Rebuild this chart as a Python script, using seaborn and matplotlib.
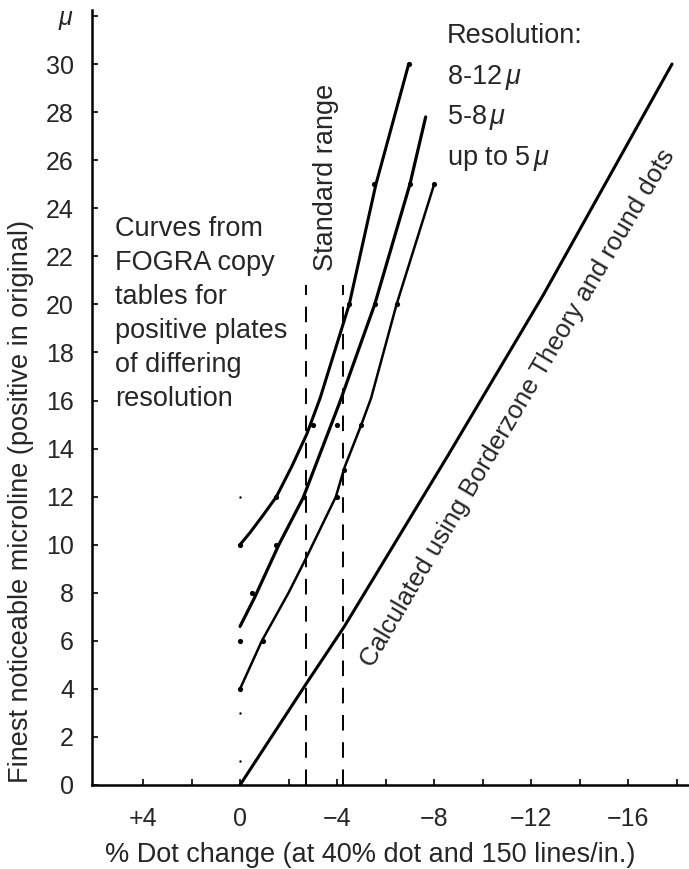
# Finest noticeable microline vs. % dot change - FOGRA curves and borderzone theory

import numpy as np
import pandas as pd
import matplotlib
matplotlib.use("Agg")
import matplotlib.pyplot as plt
import seaborn as sns

# Curves (x = % dot change, y = microline in micron)
res_8_12_x = [0, -0.41, -0.96, -1.5, -2.13, -2.75, -3.3, -4.5, -5.6, -6.95]
res_8_12_y = [10, 10.5, 11.24, 12, 13.25, 14.6, 16.1, 20, 25, 30]

res_5_8_x = [0, -0.6, -1.6, -2.6, -4.1, -5.55, -7.0, -7.65]
res_5_8_y = [6.6, 7.8, 10, 11.95, 15.9, 20, 25, 27.8]

res_up5_x = [0, -0.9, -2.0, -2.75, -3.95, -4.3, -5.0, -5.4, -6.45, -8.0]
res_up5_y = [4, 6, 8, 9.5, 12, 13.2, 15, 16.1, 20, 25]

# Calculated with borderzone theory and round dots
calc_x = [0, -2.75, -4.3, -8.56, -12.5, -17.8]
calc_y = [0, 4.25, 6.6, 13.7, 20.4, 30]

# Measured points
dots_x = [0, 0, 0, -0.95, -0.5, -1.5, -1.5, -2.65, -4.0, -3.0, -4.0, -5.0,
          -4.3, -4.5, -5.55, -6.45, -5.5, -7.0, -8.0, -6.95]
dots_y = [10, 6, 4, 6, 8, 10, 12, 12, 12, 15, 15, 15,
          13.1, 20, 20, 20, 25, 25, 25, 30]
specks_x = [0, 0, 0]
specks_y = [12, 3, 1]

# Standard range (dashed verticals)
std_range_x = [-2.72, -4.24]
std_range_top = 20.8

# Axis ticks
xtick_pos = [4, 2, 0, -2, -4, -6, -8, -10, -12, -14, -16, -18]
xtick_labels = ["+4", "", "0", "", "\u22124", "", "\u22128", "", "\u221212", "", "\u221216", ""]
ytick_pos = list(range(0, 34, 2))
ytick_labels = [str(v) for v in range(0, 32, 2)] + [r"$\mu$"]

left_text = ["Curves from", "FOGRA copy", "tables for", "positive plates",
             "of differing", "resolution"]
legend_text = ["Resolution:", r"8-12$\,\mu$", r"5-8$\,\mu$", r"up to 5$\,\mu$"]

sns.set_theme(style="ticks")
plt.rcParams["font.family"] = ["Liberation Sans", "DejaVu Sans"]
plt.rcParams["mathtext.fontset"] = "custom"
plt.rcParams["mathtext.rm"] = "Liberation Sans"
plt.rcParams["mathtext.it"] = "Liberation Sans:italic"

fig = plt.figure(figsize=(6.89, 8.69), dpi=100)
ax = fig.add_axes([92 / 689, 84 / 869, 597 / 689, 775 / 869])

curves = [(res_8_12_x, res_8_12_y, 2.2), (res_5_8_x, res_5_8_y, 2.3),
          (res_up5_x, res_up5_y, 1.8), (calc_x, calc_y, 2.2)]
for cx, cy, lw in curves:
    d = pd.DataFrame({"x": cx, "y": cy})
    sns.lineplot(data=d, x="x", y="y", sort=False, estimator=None,
                 color="black", lw=lw, ax=ax)

sns.scatterplot(x=dots_x, y=dots_y, color="black", s=14, linewidth=0, ax=ax)
sns.scatterplot(x=specks_x, y=specks_y, color="black", s=3, linewidth=0, ax=ax)

ax.vlines(std_range_x, 0, std_range_top, colors="black", lw=1.4,
          linestyles=(0, (8, 6)))

ax.set_xlim(6.1, -18.5)
ax.set_ylim(0, 32.25)
ax.set_xticks(xtick_pos)
ax.set_xticklabels(xtick_labels)
ax.set_yticks(ytick_pos)
ax.set_yticklabels(ytick_labels)
ax.tick_params(axis="x", direction="in", length=4, width=1.2, pad=16,
               labelsize=18, color="black")
ax.tick_params(axis="y", direction="in", length=4, width=1.2, pad=13,
               labelsize=18, color="black")

sns.despine(ax=ax)
for side in ["left", "bottom"]:
    ax.spines[side].set_linewidth(1.8)
    ax.spines[side].set_color("black")

ax.set_xlabel("% Dot change (at 40% dot and 150 lines/in.)", fontsize=19.5)
ax.set_ylabel("Finest noticeable microline (positive in original)", fontsize=19.5)
ax.xaxis.set_label_coords(0.466, -0.074)
ax.yaxis.set_label_coords(-0.097, 0.366)

# Annotation text
for i, line in enumerate(left_text):
    ax.text(5.15, 22.85 - i * 1.415, line, fontsize=19.5, ha="left", va="baseline")

for i, line in enumerate(legend_text):
    ax.text(-8.52, 30.88 - i * 1.69, line, fontsize=19.5, ha="left", va="baseline")

ax.text(-3.54, 25.3, "Standard range", fontsize=19.5, rotation=90,
        ha="center", va="center")
ax.text(-11.44, 15.69, "Calculated using Borderzone Theory and round dots",
        fontsize=18.5, rotation=59.5, rotation_mode="anchor",
        ha="center", va="center")

fig.savefig("out.png", dpi=100)
plt.close(fig)
